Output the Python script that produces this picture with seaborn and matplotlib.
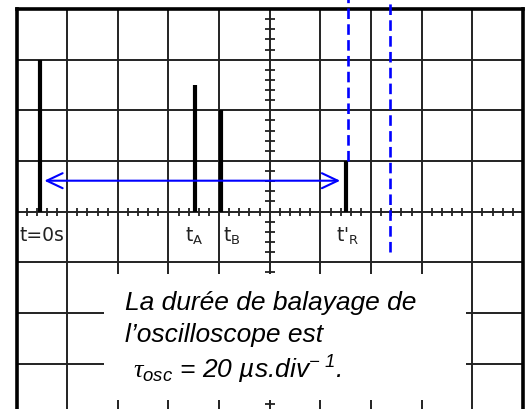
import pandas as pd
import seaborn as sns
import matplotlib.pyplot as plt
from matplotlib.patches import Rectangle

# Oscilloscope trace, all values in divisions
pulse_names = ['t0', 'tA', 'tB', 'tR']
pulse_t = [0.46, 3.52, 4.04, 6.51]
pulse_h = [3.0, 2.5, 2.0, 1.0]

# dashed blue cursors: position and lower end
cursor_t = [6.55, 7.38]
cursor_low = [1.0, -0.8]
cursor_high = 4.25

# double arrow between t=0 and t'R
arrow_x = [0.55, 6.39]
arrow_y = 0.61

label_texts = ['t=0s', r't$_\mathrm{A}$', r't$_\mathrm{B}$', r"t'$_\mathrm{R}$"]
label_x = [0.05, 3.33, 4.08, 6.31]
label_y = -0.46

text_lines = ['La durée de balayage de',
              'l’oscilloscope est',
              r'$\mathcal{\tau}_{osc}$ = 20 µs.div$^{-\ 1}$.']
text_x = [2.14, 2.14, 2.30]
text_y = [-1.92, -2.555, -3.27]

n_xdiv, n_ydiv = 10, 8

sns.set_theme(style='white')
plt.rcParams['font.family'] = ['DejaVu Sans']
plt.rcParams['mathtext.fontset'] = 'custom'
plt.rcParams['mathtext.rm'] = 'Liberation Sans:italic'
plt.rcParams['mathtext.it'] = 'Liberation Sans:italic'
plt.rcParams['mathtext.cal'] = 'Liberation Serif:italic'

fig = plt.figure(figsize=(5.25, 4.10), dpi=100)
ax = fig.add_axes([16.5 / 525, (400 - 405.2) / 410, 506.5 / 525, 405.2 / 410])
ax.set_xlim(0, n_xdiv)
ax.set_ylim(-n_ydiv / 2, n_ydiv / 2)
ax.set_xticks([])
ax.set_yticks([])

# graticule
grid_col = '#222222'
for gx in range(1, n_xdiv):
    ax.axvline(gx, color=grid_col, lw=1.4, zorder=1)
for gy in range(-n_ydiv // 2 + 1, n_ydiv // 2):
    ax.axhline(gy, color=grid_col, lw=1.4, zorder=1)

# small ticks on the centre lines
minor_x = [k / 5 for k in range(1, n_xdiv * 5) if k % 5]
minor_y = [k / 5 - n_ydiv / 2 for k in range(1, n_ydiv * 5) if k % 5]
ax.plot(minor_x, [0] * len(minor_x), ls='none', marker='|', ms=5.5, mew=1.3, color=grid_col, zorder=1)
ax.plot([n_xdiv / 2] * len(minor_y), minor_y, ls='none', marker='_', ms=6.5, mew=1.3, color=grid_col, zorder=1)

for side in ['left', 'top', 'right']:
    ax.spines[side].set_visible(True)
    ax.spines[side].set_color('black')
    ax.spines[side].set_linewidth(2.6)
ax.spines['bottom'].set_visible(False)

# white box behind the text
ax.add_patch(Rectangle((1.72, -3.71), 7.16, 2.48, facecolor='white', edgecolor='none', zorder=3))

# pulses
rows = []
for name, t, h in zip(pulse_names, pulse_t, pulse_h):
    rows.append({'pulse': name, 't': t, 'v': 0.0})
    rows.append({'pulse': name, 't': t, 'v': h})
df = pd.DataFrame(rows)
sns.lineplot(data=df, x='t', y='v', units='pulse', estimator=None, sort=False,
             color='black', lw=3.0, solid_capstyle='butt', legend=False, ax=ax, zorder=4)
ax.set_xlabel('')
ax.set_ylabel('')

# cursors
for ct, lo in zip(cursor_t, cursor_low):
    ax.plot([ct, ct], [lo, cursor_high], color='blue', lw=1.9, ls=(0, (4, 2)),
            clip_on=False, zorder=5)

ax.annotate('', xy=(arrow_x[1], arrow_y), xytext=(arrow_x[0], arrow_y),
            arrowprops=dict(arrowstyle='<->, head_length=0.95, head_width=0.45',
                            color='blue', lw=1.5, shrinkA=0, shrinkB=0), zorder=5)

for txt, lx in zip(label_texts, label_x):
    ax.text(lx, label_y, txt, fontsize=13.5, color='#222222', ha='left', va='center',
            family='DejaVu Sans', math_fontfamily='dejavusans', zorder=5)

for line, tx, ty in zip(text_lines, text_x, text_y):
    ax.text(tx, ty, line, fontsize=19, style='italic', family='Liberation Sans',
            ha='left', va='baseline', color='black', zorder=5)

fig.savefig('out.png', dpi=100)
